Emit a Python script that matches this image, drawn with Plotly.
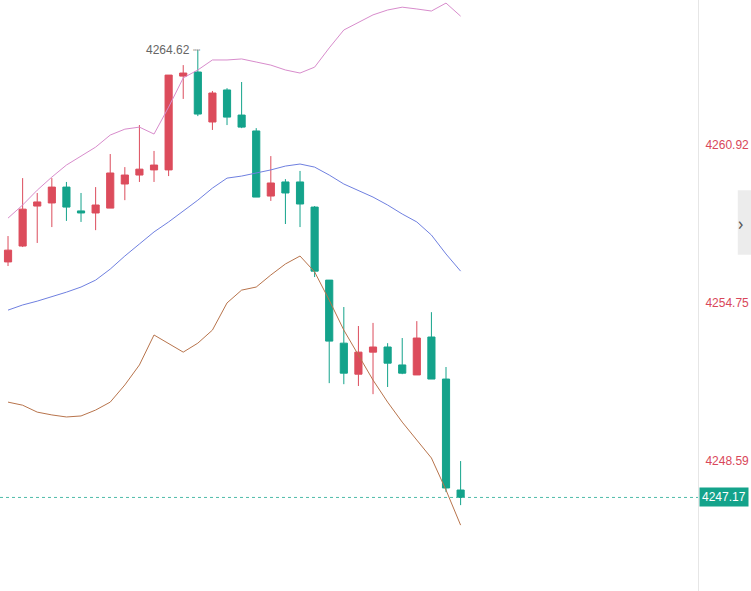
import plotly.graph_objects as go

idx = list(range(32))
opens = [4256.36, 4256.98, 4258.54, 4258.66, 4259.28, 4258.35, 4258.27, 4258.46, 4259.40, 4259.75,
         4259.95, 4259.95, 4263.61, 4263.77, 4261.82, 4263.07, 4262.09, 4261.47, 4258.93, 4259.48,
         4259.48, 4258.50, 4255.65, 4253.19, 4251.98, 4252.84, 4253.04, 4252.34, 4251.95, 4253.43,
         4251.79, 4247.46]
highs = [4257.37, 4259.63, 4259.05, 4259.63, 4259.48, 4259.05, 4259.28, 4260.57, 4260.06, 4261.70,
         4260.69, 4263.65, 4264.04, 4264.62, 4263.03, 4263.14, 4263.38, 4261.58, 4260.49, 4259.59,
         4259.91, 4258.54, 4255.65, 4254.60, 4253.86, 4253.98, 4253.19, 4253.39, 4254.05, 4254.40,
         4252.26, 4248.59]
lows = [4256.20, 4256.94, 4257.10, 4257.72, 4257.96, 4257.92, 4257.60, 4258.46, 4258.77, 4259.48,
        4259.48, 4259.71, 4262.72, 4262.05, 4261.51, 4261.70, 4261.58, 4258.89, 4258.74, 4257.84,
        4257.72, 4255.77, 4251.63, 4251.59, 4251.52, 4251.20, 4251.48, 4251.98, 4251.95, 4251.79,
        4247.38, 4246.87]
closes = [4256.82, 4258.42, 4258.70, 4259.28, 4258.50, 4258.27, 4258.58, 4259.83, 4259.75, 4259.98,
          4260.14, 4263.65, 4263.73, 4262.13, 4262.95, 4262.01, 4261.62, 4258.89, 4259.44, 4259.05,
          4258.62, 4256.00, 4253.27, 4252.02, 4252.84, 4253.04, 4252.41, 4252.02, 4253.39, 4251.79,
          4247.54, 4247.17]

boll_upper = [4258.07, 4258.58, 4259.16, 4259.67, 4260.14, 4260.49, 4260.84, 4261.31, 4261.54, 4261.62,
              4261.35, 4262.40, 4263.54, 4263.85, 4264.24, 4264.24, 4264.28, 4264.16, 4264.04, 4263.85,
              4263.73, 4263.96, 4264.71, 4265.41, 4265.72, 4266.00, 4266.19, 4266.30, 4266.23, 4266.15,
              4266.46, 4265.95]
boll_mid = [4254.48, 4254.68, 4254.83, 4254.99, 4255.18, 4255.38, 4255.65, 4256.08, 4256.59, 4257.06,
            4257.53, 4257.92, 4258.35, 4258.77, 4259.24, 4259.63, 4259.71, 4259.83, 4259.95, 4260.10,
            4260.18, 4260.06, 4259.75, 4259.40, 4259.16, 4258.89, 4258.58, 4258.23, 4257.92, 4257.41,
            4256.67, 4256.00]
boll_lower = [4250.89, 4250.77, 4250.50, 4250.39, 4250.31, 4250.35, 4250.58, 4250.89, 4251.56, 4252.34,
              4253.51, 4253.19, 4252.84, 4253.19, 4253.70, 4254.76, 4255.26, 4255.38, 4255.85, 4256.28,
              4256.59, 4255.97, 4254.87, 4253.70, 4252.73, 4251.75, 4250.89, 4250.11, 4249.41, 4248.71,
              4247.46, 4246.09]

tick_vals = [4248.59, 4254.75, 4260.92]
last_price = 4247.17
high_label = "4264.62"

RED = "#dc4c5c"
GREEN = "#14a38b"

fig = go.Figure()
fig.add_trace(go.Scatter(x=idx, y=boll_upper, mode="lines", line=dict(color="#d88ccc", width=1)))
fig.add_trace(go.Scatter(x=idx, y=boll_mid, mode="lines", line=dict(color="#6f80e0", width=1)))
fig.add_trace(go.Scatter(x=idx, y=boll_lower, mode="lines", line=dict(color="#b8744c", width=1)))
fig.add_trace(go.Candlestick(
    x=idx, open=opens, high=highs, low=lows, close=closes,
    increasing=dict(line=dict(color=RED, width=1), fillcolor=RED),
    decreasing=dict(line=dict(color=GREEN, width=1), fillcolor=GREEN),
    whiskerwidth=0,
))

fig.add_hline(y=last_price, line=dict(color="#4fbba8", width=1, dash="dot"))
fig.add_annotation(x=1, xref="paper", xanchor="left", y=last_price, text=f"{last_price:.2f}",
                   showarrow=False, bgcolor=GREEN, font=dict(color="white", size=12, family="Arial"),
                   borderpad=2, xshift=1)
fig.add_annotation(x=13, y=4264.62, text=high_label + " ┈", showarrow=False, xanchor="right",
                   xshift=4, font=dict(color="#666", size=12, family="Arial"))
# collapse tab on the right edge
fig.add_shape(type="rect", xref="paper", yref="paper", x0=1.057, x1=1.08, y0=0.569, y1=0.678,
              fillcolor="#ececec", line=dict(width=0), layer="above")
fig.add_annotation(x=1.068, xref="paper", y=0.623, yref="paper", text="›", showarrow=False,
                   font=dict(color="#555", size=18))

fig.update_layout(
    width=751, height=591,
    margin=dict(l=0, r=53, t=0, b=0, pad=0, autoexpand=False),
    plot_bgcolor="white", paper_bgcolor="white",
    showlegend=False,
    xaxis=dict(range=[-0.55, 47.26], visible=False, rangeslider=dict(visible=False)),
    yaxis=dict(range=[4243.52, 4266.58], side="right", tickvals=tick_vals,
               ticktext=[f"{v:.2f}" for v in tick_vals], showgrid=False, zeroline=False,
               showline=True, linecolor="#e6e6e6", ticks="",
               tickfont=dict(color="#d9475a", size=12, family="Arial"), ticklabelstandoff=4),
)

fig.write_html("out.html", config={"displayModeBar": False},
               post_script="document.body.style.margin='0';")
